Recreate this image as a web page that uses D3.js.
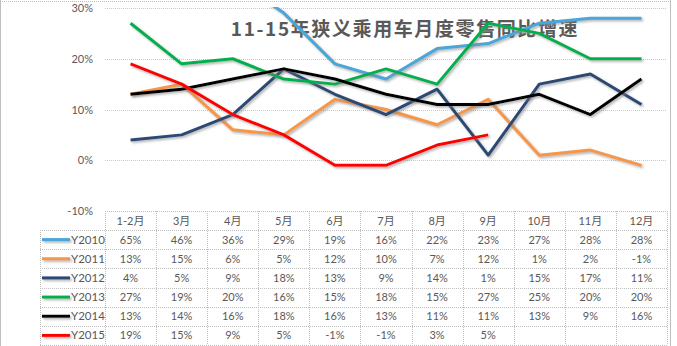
<!DOCTYPE html>
<html>
<head>
<meta charset="utf-8">
<script src="https://cdn.jsdelivr.net/npm/d3@7"></script>
<style>
  html, body { margin: 0; padding: 0; background: #fff; }
  svg { display: block; }
  text { font-family: Lato, "Noto Sans CJK SC", sans-serif; fill: #595959; }
</style>
</head>
<body>
<script>
// Month categories (x axis / table header)
const months = ["1-2月", "3月", "4月", "5月", "6月", "7月", "8月", "9月", "10月", "11月", "12月"];
// Year-on-year growth (%) per year
const Y2010 = [65, 46, 36, 29, 19, 16, 22, 23, 27, 28, 28];
const Y2011 = [13, 15, 6, 5, 12, 10, 7, 12, 1, 2, -1];
const Y2012 = [4, 5, 9, 18, 13, 9, 14, 1, 15, 17, 11];
const Y2013 = [27, 19, 20, 16, 15, 18, 15, 27, 25, 20, 20];
const Y2014 = [13, 14, 16, 18, 16, 13, 11, 11, 13, 9, 16];
const Y2015 = [19, 15, 9, 5, -1, -1, 3, 5];
const seriesNames = ["Y2010", "Y2011", "Y2012", "Y2013", "Y2014", "Y2015"];
const seriesColors = ["#4BA6D8", "#F79646", "#2B4A74", "#00B050", "#000000", "#FF0000"];
const yTicks = [30, 20, 10, 0, -10];
const title = "11-15年狭义乘用车月度零售同比增速";

const series = [Y2010, Y2011, Y2012, Y2013, Y2014, Y2015].map((vals, i) => ({
  name: seriesNames[i], color: seriesColors[i], values: vals
}));

const W = 677, H = 346;
const svg = d3.select("body").append("svg").attr("width", W).attr("height", H);

const defs = svg.append("defs");
const f = defs.append("filter").attr("id", "shadow")
  .attr("filterUnits", "userSpaceOnUse")
  .attr("x", 0).attr("y", 0).attr("width", W).attr("height", H);
f.append("feDropShadow").attr("dx", 1.6).attr("dy", 1.6).attr("stdDeviation", 0.9)
  .attr("flood-color", "#7f7f7f").attr("flood-opacity", 0.6);

const plot = { left: 105, right: 667, top: 8, bottom: 211 };
defs.append("clipPath").attr("id", "plotclip").append("rect")
  .attr("x", plot.left).attr("y", plot.top - 1)
  .attr("width", plot.right - plot.left).attr("height", plot.bottom - plot.top + 1);

const x = d3.scaleBand().domain(months).range([plot.left, plot.right]).padding(0);
const y = d3.scaleLinear().domain([-10, 30]).range([plot.bottom, plot.top]);

// Outer chart border
svg.append("line").attr("x1", 0.5).attr("x2", 0.5).attr("y1", 0).attr("y2", H)
  .attr("stroke", "#BFBFBF");
svg.append("line").attr("x1", 670.5).attr("x2", 670.5).attr("y1", 0).attr("y2", H)
  .attr("stroke", "#BFBFBF");
svg.append("line").attr("x1", 0).attr("x2", 671).attr("y1", 1.5).attr("y2", 1.5)
  .attr("stroke", "#BFBFBF").attr("stroke-dasharray", "1,1");

// Horizontal gridlines
svg.append("g").selectAll("line").data(yTicks.filter(t => t > -10)).join("line")
  .attr("x1", plot.left).attr("x2", plot.right)
  .attr("y1", d => Math.round(y(d)) + 0.5).attr("y2", d => Math.round(y(d)) + 0.5)
  .attr("stroke", "#C8C8C8").attr("stroke-dasharray", "1,1");

// Y axis labels
const yAxis = d3.axisLeft(y).tickValues(yTicks).tickFormat(d => d + "%").tickSize(0).tickPadding(0);
const ya = svg.append("g").attr("transform", `translate(93,0)`).call(yAxis);
ya.select(".domain").remove();
ya.selectAll("text").attr("font-size", 11).attr("fill", "#595959")
  .style("font-family", "Lato, sans-serif");

// Title
svg.append("text").attr("x", 405).attr("y", 36).attr("text-anchor", "middle")
  .attr("font-size", 19).attr("font-weight", "bold").attr("letter-spacing", 1.6)
  .style("font-family", "'Noto Sans CJK SC', sans-serif")
  .attr("fill", "#595959").text(title);

// Series lines
const line = d3.line().x((d, i) => x(months[i]) + x.bandwidth() / 2).y(d => y(d));
svg.append("g").attr("clip-path", "url(#plotclip)")
  .selectAll("path").data(series).join("path")
  .attr("d", d => line(d.values))
  .attr("fill", "none").attr("stroke", d => d.color).attr("stroke-width", 3)
  .attr("stroke-linejoin", "round").attr("filter", "url(#shadow)");

// Data table
const rowH = (345 - 230) / 6;
const headTop = plot.bottom, headBot = 230;
const legendLeft = 40;
const tbl = svg.append("g");
const dot = sel => sel.attr("stroke", "#BFBFBF").attr("stroke-dasharray", "1,1");

// Horizontal table rules
tbl.append("line").attr("x1", plot.left).attr("x2", plot.right)
  .attr("y1", headTop + 0.5).attr("y2", headTop + 0.5).call(dot);
d3.range(7).forEach(i => {
  const yy = Math.round(headBot + i * rowH) + 0.5;
  tbl.append("line").attr("x1", legendLeft).attr("x2", plot.right)
    .attr("y1", yy).attr("y2", yy).call(dot);
});
// Vertical table rules
months.forEach(m => {
  tbl.append("line").attr("x1", Math.round(x(m)) + 0.5).attr("x2", Math.round(x(m)) + 0.5)
    .attr("y1", headTop).attr("y2", 345).call(dot);
});
tbl.append("line").attr("x1", plot.right + 0.5).attr("x2", plot.right + 0.5)
  .attr("y1", headTop).attr("y2", 345).call(dot);
tbl.append("line").attr("x1", legendLeft + 0.5).attr("x2", legendLeft + 0.5)
  .attr("y1", headBot).attr("y2", 345).call(dot);

// Header labels
tbl.selectAll("text.head").data(months).join("text").attr("class", "head")
  .attr("x", d => x(d) + x.bandwidth() / 2).attr("y", (headTop + headBot) / 2 + 4)
  .attr("text-anchor", "middle").attr("font-size", 11).text(d => d);

// Rows: legend key + values
series.forEach((s, r) => {
  const cy = headBot + (r + 0.5) * rowH;
  tbl.append("rect").attr("x", 42).attr("y", cy - 1.5).attr("width", 28).attr("height", 3)
    .attr("fill", s.color).attr("filter", "url(#shadow)");
  tbl.append("text").attr("x", 71).attr("y", cy + 4).attr("font-size", 11.5).text(s.name);
  tbl.selectAll(null).data(s.values).join("text")
    .attr("x", (d, i) => x(months[i]) + x.bandwidth() / 2).attr("y", cy + 4)
    .attr("text-anchor", "middle").attr("font-size", 11).text(d => d + "%");
});
</script>
</body>
</html>
